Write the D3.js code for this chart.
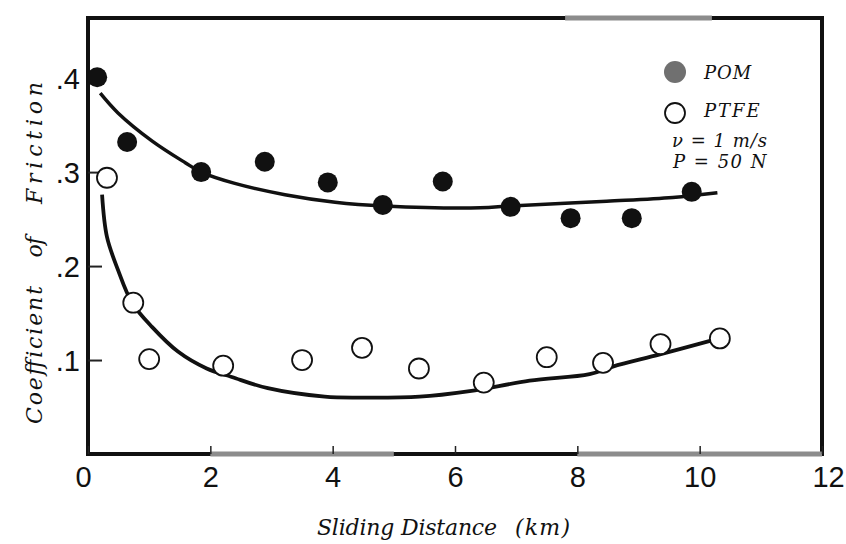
<!DOCTYPE html>
<html>
<head>
<meta charset="utf-8">
<script src="https://cdn.jsdelivr.net/npm/d3@7"></script>
<style>
  body { margin: 0; background: #fff; }
  svg { display: block; }
  .tick-label { font-family: "Liberation Sans", Arial, sans-serif; font-size: 29px; fill: #111; }
  .note { font-family: "DejaVu Serif", serif; font-style: italic; font-size: 18px; fill: #111; }
  .title { font-family: "DejaVu Serif", serif; font-style: italic; font-size: 22px; fill: #111; }
</style>
</head>
<body>
<svg id="chart" width="846" height="544"></svg>
<script>
// values
var xTicks = [0, 2, 4, 6, 8, 10, 12];
var yTicks = [0.1, 0.2, 0.3, 0.4];
var yTickLabels = [".1", ".2", ".3", ".4"];

var pomDist  = [0.15, 0.64, 1.85, 2.89, 3.92, 4.82, 5.80, 6.91, 7.89, 8.89, 9.87];
var pomCoef  = [0.401, 0.332, 0.300, 0.311, 0.289, 0.265, 0.290, 0.263, 0.251, 0.251, 0.279];
var ptfeDist = [0.31, 0.74, 1.00, 2.21, 3.50, 4.48, 5.41, 6.47, 7.50, 8.42, 9.36, 10.33];
var ptfeCoef = [0.294, 0.161, 0.101, 0.094, 0.100, 0.113, 0.091, 0.076, 0.103, 0.097, 0.117, 0.123];

// hand-drawn trend curves, traced
var pomFitDist  = [0.20, 0.49, 1.05, 1.59, 1.85, 2.40, 3.22, 4.04, 4.85, 6.41, 6.91, 8.48, 9.56, 10.29];
var pomFitCoef  = [0.384, 0.363, 0.333, 0.310, 0.300, 0.288, 0.276, 0.268, 0.264, 0.262, 0.264, 0.269, 0.273, 0.278];
var ptfeFitDist = [0.23, 0.31, 0.49, 0.72, 1.05, 1.47, 1.94, 2.35, 2.94, 3.87, 4.44, 5.42, 6.24, 7.22, 8.20, 8.58, 9.35, 10.20];
var ptfeFitCoef = [0.276, 0.231, 0.196, 0.161, 0.135, 0.109, 0.091, 0.082, 0.070, 0.061, 0.060, 0.061, 0.067, 0.078, 0.085, 0.093, 0.106, 0.121];

var svg = d3.select("#chart");

var x = d3.scaleLinear().domain([0, 12]).range([88, 822]);
var y = d3.scaleLinear().domain([0, 0.464]).range([454, 18]);

// frame
svg.append("rect")
  .attr("x", x(0)).attr("y", y(0.464))
  .attr("width", x(12) - x(0)).attr("height", y(0) - y(0.464))
  .attr("fill", "none").attr("stroke", "#111").attr("stroke-width", 4);

// faded stretches of the scanned frame
var faded = [[2, 5, 0], [8, 12, 0], [7.8, 10.2, 0.464]];
svg.selectAll("line.faded")
  .data(faded)
  .join("line")
  .attr("class", "faded")
  .attr("x1", function(d) { return x(d[0]); })
  .attr("x2", function(d) { return x(d[1]); })
  .attr("y1", function(d) { return y(d[2]); })
  .attr("y2", function(d) { return y(d[2]); })
  .attr("stroke", "#8c8c8c").attr("stroke-width", 5);

// x axis ticks (inward) and labels
var xAxis = svg.append("g").attr("transform", "translate(0," + y(0) + ")")
  .call(d3.axisBottom(x).tickValues(xTicks).tickSize(-8).tickFormat(d3.format("d")));
xAxis.select(".domain").remove();
xAxis.selectAll(".tick line").attr("stroke", "#222").attr("stroke-width", 1.5);
xAxis.selectAll(".tick text").attr("class", "tick-label").attr("font-size", null).attr("font-family", null)
  .attr("y", 7).attr("dy", "0.9em")
  .attr("dx", function(d) { return d === 0 ? -5 : (d === 12 ? 6 : 0); });

// y axis ticks (inward) and labels
var yAxis = svg.append("g").attr("transform", "translate(" + x(0) + ",0)")
  .call(d3.axisLeft(y).tickValues(yTicks).tickSize(-14)
    .tickFormat(function(d, i) { return yTickLabels[i]; }));
yAxis.select(".domain").remove();
yAxis.selectAll(".tick line").attr("stroke", "#222").attr("stroke-width", 2);
yAxis.selectAll(".tick text").attr("class", "tick-label").attr("font-size", null).attr("font-family", null)
  .attr("x", -8).attr("dy", "0.36em");

// curves
var line = d3.line()
  .x(function(d) { return x(d[0]); })
  .y(function(d) { return y(d[1]); })
  .curve(d3.curveCatmullRom.alpha(0.5));

svg.append("path")
  .datum(d3.zip(pomFitDist, pomFitCoef))
  .attr("d", line)
  .attr("fill", "none").attr("stroke", "#111").attr("stroke-width", 3.5);

svg.append("path")
  .datum(d3.zip(ptfeFitDist, ptfeFitCoef))
  .attr("d", line)
  .attr("fill", "none").attr("stroke", "#111").attr("stroke-width", 3.8);

// markers
svg.selectAll("circle.pom")
  .data(d3.zip(pomDist, pomCoef))
  .join("circle")
  .attr("class", "pom")
  .attr("cx", function(d) { return x(d[0]); })
  .attr("cy", function(d) { return y(d[1]); })
  .attr("r", 10)
  .attr("fill", "#111");

svg.selectAll("circle.ptfe")
  .data(d3.zip(ptfeDist, ptfeCoef))
  .join("circle")
  .attr("class", "ptfe")
  .attr("cx", function(d) { return x(d[0]); })
  .attr("cy", function(d) { return y(d[1]); })
  .attr("r", 10)
  .attr("fill", "#fff").attr("stroke", "#111").attr("stroke-width", 1.8);

// legend / test conditions
svg.append("circle").attr("cx", 675).attr("cy", 72).attr("r", 11).attr("fill", "#707070");
svg.append("text").attr("class", "note").attr("x", 704).attr("y", 79)
  .style("letter-spacing", "1px").text("POM");
svg.append("circle").attr("cx", 675).attr("cy", 113).attr("r", 10)
  .attr("fill", "#fff").attr("stroke", "#111").attr("stroke-width", 1.8);
svg.append("text").attr("class", "note").attr("x", 704).attr("y", 117)
  .style("letter-spacing", "2px").text("PTFE");
svg.append("text").attr("class", "note").attr("x", 672).attr("y", 147)
  .style("white-space", "pre").style("letter-spacing", "1px").text("ν = 1 m/s");
svg.append("text").attr("class", "note").attr("x", 673).attr("y", 168)
  .style("white-space", "pre").style("letter-spacing", "1.5px").text("P = 50 N");

// axis titles
svg.append("text").attr("class", "title")
  .attr("x", 317).attr("y", 535)
  .attr("textLength", 180).attr("lengthAdjust", "spacing")
  .text("Sliding Distance");
svg.append("text").attr("class", "title")
  .attr("x", 515).attr("y", 535)
  .attr("textLength", 55).attr("lengthAdjust", "spacing")
  .text("(km)");

var yTitle = [["Coefficient", 355, 138], ["of", 247, 21], ["Friction", 143, 122]];
svg.selectAll("text.ytitle")
  .data(yTitle)
  .join("text")
  .attr("class", "title ytitle")
  .attr("transform", function(d) { return "translate(42," + d[1] + ") rotate(-90)"; })
  .attr("text-anchor", "middle")
  .attr("textLength", function(d) { return d[2]; })
  .attr("lengthAdjust", "spacing")
  .text(function(d) { return d[0]; });
</script>
</body>
</html>
